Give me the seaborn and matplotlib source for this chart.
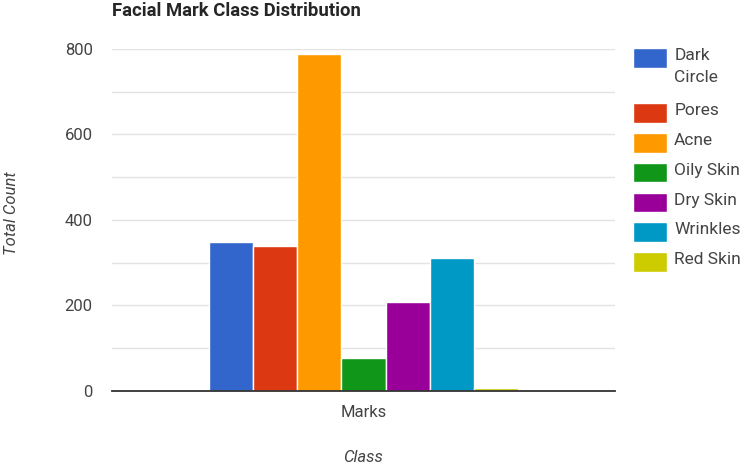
import pandas as pd
import matplotlib.pyplot as plt
import seaborn as sns
from matplotlib.offsetbox import VPacker, DrawingArea

# values
classes = ["Dark Circle", "Pores", "Acne", "Oily Skin", "Dry Skin", "Wrinkles", "Red Skin"]
counts = [348, 340, 787, 78, 208, 311, 7]
colors = ["#3366cc", "#dc3912", "#ff9900", "#109618", "#990099", "#0099c6", "#cccc00"]
group = "Marks"

df = pd.DataFrame({"Class": [group] * len(classes), "Mark": classes, "Count": counts})

sns.set_style("white")
plt.rcParams["font.family"] = ["Roboto", "DejaVu Sans"]

fig = plt.figure(figsize=(7.48, 4.66), dpi=100)
ax = fig.add_axes([0.150, 0.161, 0.672, 0.734])

sns.barplot(
    data=df, x="Class", y="Count", hue="Mark",
    hue_order=classes, palette=colors, width=0.616, saturation=1,
    edgecolor="white", linewidth=1, ax=ax,
)

ax.set_xlim(-0.5, 0.5)
ax.set_ylim(0, 800)
ax.set_yticks(range(0, 801, 200))
ax.set_yticks(range(0, 801, 100), minor=True)
ax.grid(axis="y", which="both", color="#e3e3e3", linewidth=1)
ax.set_axisbelow(True)
for s in ["top", "right", "left"]:
    ax.spines[s].set_visible(False)
ax.spines["bottom"].set_color("#333333")
ax.spines["bottom"].set_linewidth(1.3)
ax.tick_params(axis="both", which="both", length=0, labelsize=12, colors="#444444", pad=10)
ax.tick_params(axis="y", pad=14)

ax.set_xlabel("Class", fontsize=12, style="italic", color="#444444", labelpad=22)
ax.set_ylabel("Total Count", fontsize=12, style="italic", color="#444444")
ax.yaxis.set_label_coords(-0.186, 0.52)
ax.set_title("Facial Mark Class Distribution", fontsize=13.3, fontweight="bold",
             loc="left", x=0.0, pad=24)

handles, labels = ax.get_legend_handles_labels()
labels = [l.replace("Dark Circle", "Dark\nCircle") for l in labels]
leg = ax.legend(handles, labels, loc="upper left", bbox_to_anchor=(0.834, 0.915),
                bbox_transform=fig.transFigure, frameon=False, fontsize=12.5,
                handlelength=2.0, handleheight=1.35, handletextpad=0.4,
                labelspacing=0.59, borderpad=0, labelcolor="#444444")
for t in leg.get_texts():
    t.set_linespacing(1.55)
# put the colour box next to the first line of a wrapped label
for col in leg._legend_handle_box.get_children():
    for row in col.get_children():
        row.align = "top"
# a little extra room under the wrapped "Dark Circle" entry
first = leg._legend_handle_box.get_children()[0].get_children()[0]
hbox, tbox = first.get_children()
extra = VPacker(children=[tbox, DrawingArea(0, 6)], align="left", pad=0, sep=0)
extra.set_figure(fig)
first._children = [hbox, extra]

fig.savefig("out.png", dpi=100)
